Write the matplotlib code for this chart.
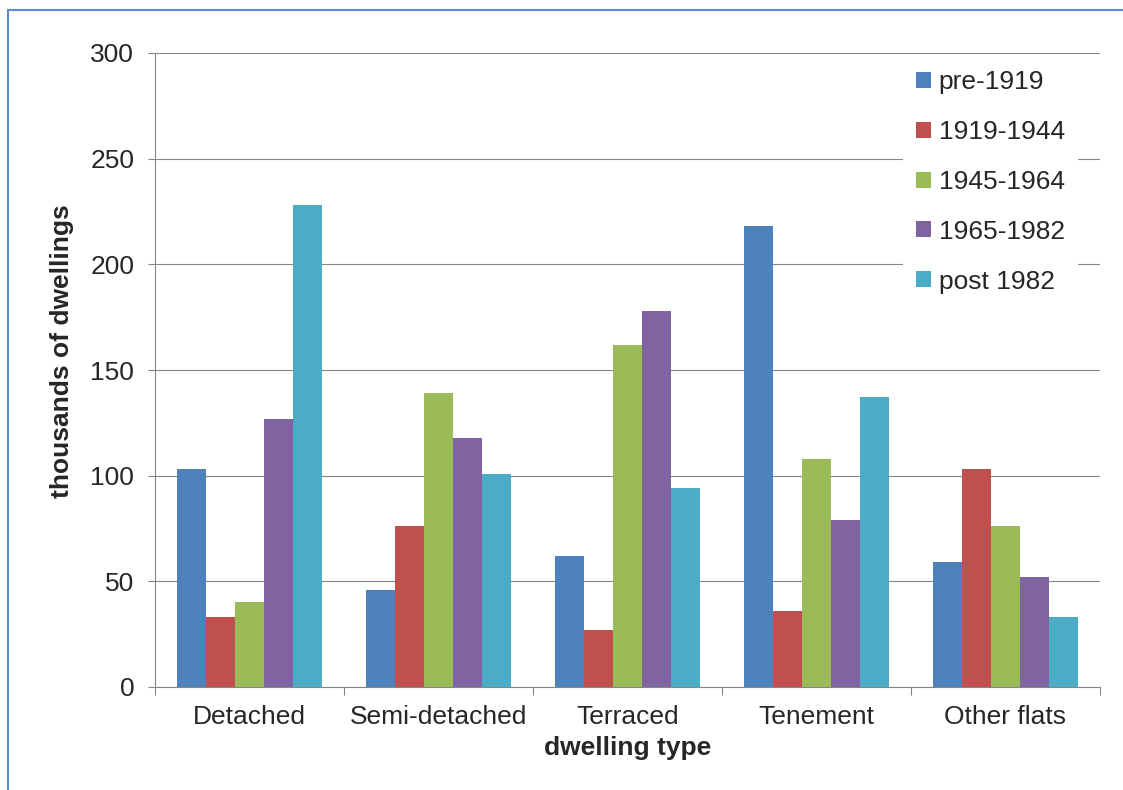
import numpy as np
import matplotlib.pyplot as plt
from matplotlib.patches import Rectangle

plt.rcParams['font.family'] = ['Liberation Sans', 'DejaVu Sans']

# Dwellings by type and age of construction (thousands)
dwelling_types = ['Detached', 'Semi-detached', 'Terraced', 'Tenement', 'Other flats']
periods = ['pre-1919', '1919-1944', '1945-1964', '1965-1982', 'post 1982']
pre_1919 = [103, 46, 62, 218, 59]
y1919_1944 = [33, 76, 27, 36, 103]
y1945_1964 = [40, 139, 162, 108, 76]
y1965_1982 = [127, 118, 178, 79, 52]
post_1982 = [228, 101, 94, 137, 33]
y_ticks = [0, 50, 100, 150, 200, 250, 300]

series = [pre_1919, y1919_1944, y1945_1964, y1965_1982, post_1982]
colours = ['#4F81BD', '#C0504D', '#9BBB59', '#8064A2', '#4BACC6']

grey = '#868686'
text_col = '#262626'
fs = 19

fig = plt.figure(figsize=(11.23, 7.9), dpi=100)
ax = fig.add_axes([155 / 1123, 103 / 790, 945 / 1123, 634 / 790])

x = np.arange(len(dwelling_types))
w = 0.153
for i, (vals, lab, col) in enumerate(zip(series, periods, colours)):
    ax.bar(x + (i - 2) * w, vals, width=w, color=col, label=lab, zorder=3)

ax.set_xlim(-0.5, len(dwelling_types) - 0.5)
ax.set_ylim(0, 300)
ax.set_yticks(y_ticks)

# labels at category centres, tick marks at the boundaries
ax.set_xticks(x)
ax.set_xticklabels(dwelling_types)
ax.set_xticks(np.arange(-0.5, len(dwelling_types)), minor=True)
ax.tick_params(axis='x', which='major', length=0, pad=13, labelsize=fs, labelcolor=text_col)
ax.tick_params(axis='x', which='minor', length=6, width=0.8, color=grey, direction='out')
ax.tick_params(axis='y', length=5, width=0.8, color=grey, pad=10, labelsize=fs, labelcolor=text_col)

ax.grid(axis='y', color=grey, linewidth=0.8, zorder=0)
ax.set_axisbelow(True)
for s in ['top', 'right']:
    ax.spines[s].set_visible(False)
for s in ['left', 'bottom']:
    ax.spines[s].set_color(grey)
    ax.spines[s].set_linewidth(0.8)

ax.set_xlabel('dwelling type', fontsize=fs, fontweight='bold', color=text_col, labelpad=5)
ax.set_ylabel('thousands of dwellings', fontsize=fs, fontweight='bold', color=text_col)
ax.yaxis.set_label_coords(-0.086, 0.529)

leg = ax.legend(loc='upper left', bbox_to_anchor=(903 / 1123, 1 - 57 / 790),
                bbox_transform=fig.transFigure, fontsize=fs, frameon=True,
                fancybox=False, borderpad=0.5, borderaxespad=0,
                handlelength=0.55, handleheight=0.55, handletextpad=0.3,
                labelspacing=0.98)
leg.get_frame().set_facecolor('white')
leg.get_frame().set_edgecolor('none')
leg.get_frame().set_alpha(1)
for t in leg.get_texts():
    t.set_color(text_col)

# thin blue chart border (left and top edges visible)
fig.patches.append(Rectangle((8 / 1123, -0.1), 1.2, 1.1 - 10 / 790,
                             transform=fig.transFigure, fill=False,
                             edgecolor='#5B8BD0', linewidth=1.5))

fig.savefig('out.png', dpi=100)
